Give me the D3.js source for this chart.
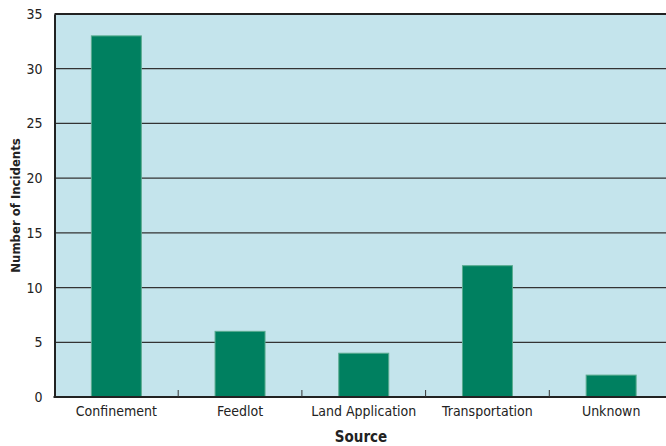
<!DOCTYPE html>
<html>
<head>
<meta charset="utf-8">
<script src="https://cdn.jsdelivr.net/npm/d3@7"></script>
<style>
  body { margin: 0; background: #fff; }
  text { font-family: "Liberation Sans Narrow", "DejaVu Sans Condensed", "Liberation Sans", sans-serif; fill: #222; }
</style>
</head>
<body>
<div id="chart"></div>
<script>
const sources = ["Confinement", "Feedlot", "Land Application", "Transportation", "Unknown"];
const incidents = [33, 6, 4, 12, 2];
const yTicks = [0, 5, 10, 15, 20, 25, 30, 35];

const width = 666, height = 446;
const plotLeft = 54.5, plotRight = 673, plotTop = 14, plotBottom = 397;

const svg = d3.select("#chart").append("svg")
    .attr("width", width)
    .attr("height", height);

const x = d3.scaleBand().domain(sources).range([plotLeft, plotRight]).paddingInner(0.596).paddingOuter(0.298);
const y = d3.scaleLinear().domain([0, 35]).range([plotBottom, plotTop]);

// background
svg.append("rect")
    .attr("x", plotLeft).attr("y", plotTop)
    .attr("width", plotRight - plotLeft).attr("height", plotBottom - plotTop)
    .attr("fill", "#c4e4ec");

// gridlines
svg.append("g")
    .selectAll("line")
    .data(yTicks.filter(d => d > 0 && d < 35))
    .enter().append("line")
    .attr("x1", plotLeft).attr("x2", plotRight)
    .attr("y1", d => y(d)).attr("y2", d => y(d))
    .attr("stroke", "#333").attr("stroke-width", 1.2);

// top border
svg.append("line")
    .attr("x1", plotLeft).attr("x2", plotRight)
    .attr("y1", plotTop).attr("y2", plotTop)
    .attr("stroke", "#222").attr("stroke-width", 2);

// bars
svg.append("g")
    .selectAll("rect")
    .data(sources)
    .enter().append("rect")
    .attr("x", d => x(d))
    .attr("y", (d, i) => y(incidents[i]))
    .attr("width", x.bandwidth())
    .attr("height", (d, i) => plotBottom - y(incidents[i]))
    .attr("fill", "#008060")
    .attr("stroke", "#5aab8f")
    .attr("stroke-width", 1);

// y axis
const yAxis = svg.append("g")
    .attr("transform", `translate(${plotLeft},0)`)
    .call(d3.axisLeft(y).tickValues(yTicks).tickSize(0).tickPadding(12));
yAxis.select(".domain").attr("stroke", "#222").attr("stroke-width", 2);
yAxis.selectAll("text").style("font-size", "14px").attr("fill", "#222");

// x axis with separators between categories
const gap = (x.step() - x.bandwidth()) / 2;
const xAxis = svg.append("g").attr("transform", `translate(0,${plotBottom})`);
xAxis.append("line")
    .attr("x1", plotLeft - 1).attr("x2", plotRight)
    .attr("stroke", "#222").attr("stroke-width", 2);
xAxis.selectAll("line.sep")
    .data(sources.slice(1))
    .enter().append("line")
    .attr("class", "sep")
    .attr("x1", d => x(d) - gap)
    .attr("x2", d => x(d) - gap)
    .attr("y1", 0).attr("y2", -7)
    .attr("stroke", "#333").attr("stroke-width", 1);
xAxis.selectAll("text")
    .data(sources)
    .enter().append("text")
    .attr("x", d => x(d) + x.bandwidth() / 2)
    .attr("y", 19)
    .attr("text-anchor", "middle")
    .style("font-size", "14px")
    .text(d => d);

// titles
svg.append("text")
    .attr("x", 361).attr("y", 442)
    .attr("text-anchor", "middle")
    .style("font-size", "15px").style("font-weight", "bold")
    .text("Source");

svg.append("text")
    .attr("transform", `translate(20,${(plotTop + plotBottom) / 2}) rotate(-90)`)
    .attr("text-anchor", "middle")
    .style("font-size", "13px").style("font-weight", "bold")
    .text("Number of Incidents");
</script>
</body>
</html>
